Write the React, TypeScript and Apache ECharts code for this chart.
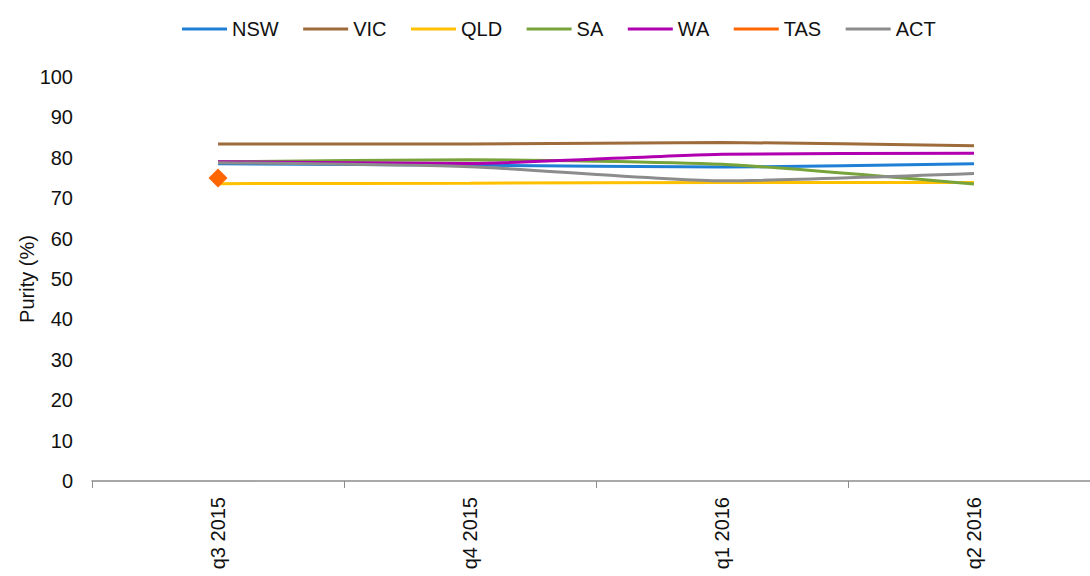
import React, { useEffect, useRef } from "react";
import * as echarts from "echarts";

const categories = ["q3 2015", "q4 2015", "q1 2016", "q2 2016"];
const nsw = [78.5, 78.2, 77.7, 78.5];
const vic = [83.4, 83.4, 83.8, 83.0];
const qld = [73.6, 73.7, 73.9, 73.9];
const sa = [79.0, 79.5, 78.4, 73.5];
const wa = [79.0, 78.6, 80.9, 81.1];
const tas: (number | null)[] = [75.0, null, null, null];
const act = [78.8, 77.8, 74.3, 76.1];

const yTicks = { min: 0, max: 100, interval: 10 };
const FONT = "'Liberation Sans', Arial, sans-serif";

export default function App() {
  const ref = useRef<HTMLDivElement>(null);
  useEffect(() => {
    if (!ref.current) return;
    const chart = echarts.init(ref.current, undefined, { renderer: "svg" });
    const line = (name: string, data: (number | null)[], color: string) => ({
      name,
      type: "line",
      data,
      smooth: 0.2,
      symbol: "none",
      lineStyle: { color, width: 3 },
      itemStyle: { color },
    });
    chart.setOption({
      animation: false,
      backgroundColor: "#ffffff",
      textStyle: { fontFamily: FONT },
      legend: {
        top: 19,
        left: 182,
        padding: 0,
        icon: "rect",
        itemWidth: 45,
        itemHeight: 3,
        itemGap: 24.5,
        textStyle: { fontSize: 20, color: "#111", fontFamily: FONT },
        data: ["NSW", "VIC", "QLD", "SA", "WA", "TAS", "ACT"],
      },
      grid: { left: 92, right: 0, top: 77, bottom: 95 },
      xAxis: {
        type: "category",
        data: categories,
        boundaryGap: true,
        axisLine: { lineStyle: { color: "#8c8c8c", width: 1.5 } },
        axisTick: { show: true, length: 7, lineStyle: { color: "#8c8c8c" } },
        axisLabel: { rotate: 90, margin: 16, fontSize: 20, color: "#111", fontFamily: FONT },
        splitLine: { show: false },
      },
      yAxis: {
        type: "value",
        min: yTicks.min,
        max: yTicks.max,
        interval: yTicks.interval,
        name: "Purity (%)",
        nameLocation: "middle",
        nameGap: 55,
        nameMoveOverlap: false,
        nameTextStyle: { fontSize: 20, color: "#111", fontFamily: FONT },
        axisLine: { show: false },
        axisTick: { show: false },
        splitLine: { show: false },
        axisLabel: { fontSize: 20, color: "#111", margin: 19, fontFamily: FONT },
      },
      series: [
        line("NSW", nsw, "#1f7fd4"),
        line("VIC", vic, "#9e6b3b"),
        line("QLD", qld, "#ffc000"),
        line("SA", sa, "#77a33a"),
        line("WA", wa, "#b000b0"),
        {
          name: "TAS",
          type: "line",
          data: tas,
          symbol: "diamond",
          symbolSize: 19,
          showSymbol: true,
          lineStyle: { color: "#ff6600", width: 3 },
          itemStyle: { color: "#ff6600" },
        },
        line("ACT", act, "#8c8c8c"),
      ],
    });
    return () => chart.dispose();
  }, []);
  return (
    <div
      style={{
        position: "absolute",
        left: 0,
        top: 0,
        width: 1090,
        height: 576,
        overflow: "hidden",
        background: "#fff",
      }}
    >
      <div ref={ref} style={{ width: 1100, height: 576 }} />
    </div>
  );
}
